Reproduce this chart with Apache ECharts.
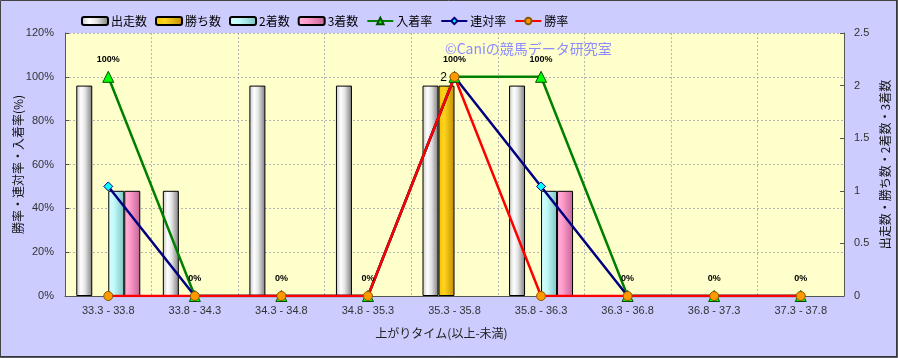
<!DOCTYPE html>
<html>
<head>
<meta charset="utf-8">
<script src="https://cdn.jsdelivr.net/npm/echarts@6/dist/echarts.min.js"></script>
<style>
html,body{margin:0;padding:0;background:#CCCCFF;}
#c{width:898px;height:358px;}
</style>
</head>
<body>
<div id="c"></div>
<script>
const categories = ['33.3 - 33.8','33.8 - 34.3','34.3 - 34.8','34.8 - 35.3','35.3 - 35.8','35.8 - 36.3','36.3 - 36.8','36.8 - 37.3','37.3 - 37.8'];
const starts   = [2,1,2,2,2,2,0,0,0];   // 出走数
const wins     = [0,0,0,0,2,0,0,0,0];   // 勝ち数
const seconds  = [1,0,0,0,0,1,0,0,0];   // 2着数
const thirds   = [1,0,0,0,0,1,0,0,0];   // 3着数
const placeRate= [100,0,0,0,100,100,0,0,0]; // 入着率
const rentaiRate=[50,0,0,0,100,50,0,0,0];   // 連対率
const winRate  = [0,0,0,0,100,0,0,0,0];     // 勝率
const leftTicks = [0,20,40,60,80,100,120];
const rightTicks = [0,0.5,1,1.5,2,2.5];

function grad(stops){
  return {type:'linear',x:0,y:0,x2:1,y2:0,colorStops:stops.map(s=>({offset:s[0],color:s[1]}))};
}
const FONT = '"Noto Sans CJK JP", sans-serif';
const NUMFONT = '"Liberation Sans", Arial, sans-serif';

function barSeries(name, data, stops, showLabel){
  return {
    name, type:'bar', yAxisIndex:1,
    data: data.map(v => v ? v : {value:v, itemStyle:{borderWidth:0}}),
    barWidth:16, barGap:'0%',
    itemStyle:{color:grad(stops), borderColor:'#000', borderWidth:1},
    label:{show:!!showLabel, position:'top', distance:2, offset:[-3,0], color:'#000', fontSize:12, fontFamily:NUMFONT,
      formatter:p=> p.value ? String(p.value) : ''}
  };
}
function lineSeries(name, data, color, symbol, symFill, size, withLabel){
  return {
    name, type:'line', yAxisIndex:0, data,
    lineStyle:{color, width:2.5},
    itemStyle:{color:symFill, borderColor: symbol==='circle' ? '#8a5a00' : (symbol==='triangle' ? '#005000' : color), borderWidth:1},
    symbol, symbolSize:size,
    label: withLabel ? {show:true, position:'top', distance:7, formatter:'{c}%', fontSize:9, fontWeight:'bold', color:'#000', fontFamily:NUMFONT} : {show:false}
  };
}

const chart = echarts.init(document.getElementById('c'), null, {renderer:'canvas'});
chart.setOption({
  backgroundColor:'#CCCCFF',
  animation:false,
  legend:{
    left:76, top:10, itemWidth:26, itemHeight:8, itemGap:8,
    textStyle:{fontSize:12, fontFamily:FONT, color:'#000', padding:[0,0,0,-2]},
    data:['出走数','勝ち数','2着数','3着数','入着率','連対率','勝率']
  },
  grid:{left:65, right:54, top:33, bottom:62, show:true, backgroundColor:'#FFFFCC', borderWidth:0, outerBoundsMode:'none', containLabel:false},
  graphic:[
    {type:'text', left:445, top:42, z:1, style:{text:'©Caniの競馬データ研究室', fill:'#8c8cff', font:'14px "Noto Sans CJK JP"'}},
    {type:'rect', shape:{x:0.5,y:0.5,width:896,height:356}, style:{fill:'none', stroke:'#444', lineWidth:1}, z:100},
    {type:'polyline', shape:{points:[[897,0],[897,357],[0,357]]}, style:{fill:'none', stroke:'#333', lineWidth:1.5}, z:100}
  ],
  xAxis:{
    type:'category', data:categories, boundaryGap:true,
    axisLine:{show:true, lineStyle:{color:'#555'}},
    axisTick:{show:false},
    axisLabel:{color:'#333', fontSize:11, fontFamily:NUMFONT, margin:9},
    splitLine:{show:true, lineStyle:{color:'#b4b4b4', type:[2,2]}},
    name:'上がりタイム(以上-未満)', nameLocation:'middle', nameGap:31, nameMoveOverlap:false,
    nameTextStyle:{fontSize:12, color:'#222', fontFamily:FONT, padding:[0,26,0,0]}
  },
  yAxis:[
    {
      type:'value', min:0, max:120, interval:20, position:'left',
      axisLine:{show:true, lineStyle:{color:'#555'}},
      axisTick:{show:true, inside:true, length:4, lineStyle:{color:'#555'}},
      axisLabel:{formatter:'{value}%', color:'#333', fontSize:11, fontFamily:NUMFONT, margin:11},
      splitLine:{show:true, lineStyle:{color:'#b4b4b4', type:[2,2]}},
      name:'勝率・連対率・入着率(%)', nameLocation:'middle', nameRotate:90, nameGap:41, nameMoveOverlap:false,
      nameTextStyle:{fontSize:12, color:'#111', fontFamily:FONT}
    },
    {
      type:'value', min:0, max:2.5, interval:0.5, position:'right',
      axisLine:{show:true, lineStyle:{color:'#555'}},
      axisTick:{show:true, inside:true, length:4, lineStyle:{color:'#555'}},
      axisLabel:{color:'#333', fontSize:11, fontFamily:NUMFONT, margin:10},
      splitLine:{show:false},
      name:'出走数・勝ち数・2着数・3着数', nameLocation:'middle', nameRotate:90, nameGap:35, nameMoveOverlap:false,
      nameTextStyle:{fontSize:12, color:'#111', fontFamily:FONT}
    }
  ],
  series:[
    barSeries('出走数', starts, [[0,'#c4c4c4'],[0.3,'#ffffff'],[0.55,'#e4e4e4'],[1,'#7c7c7c']]),
    barSeries('勝ち数', wins, [[0,'#f0c000'],[0.35,'#ffd41e'],[1,'#c08e00']], true),
    barSeries('2着数', seconds, [[0,'#d4ffff'],[0.35,'#c4fafa'],[1,'#7cc4c4']]),
    barSeries('3着数', thirds, [[0,'#ffb4da'],[0.35,'#ff9ccc'],[1,'#c06494']]),
    lineSeries('入着率', placeRate, '#008000', 'triangle', '#00ff00', 11, true),
    lineSeries('連対率', rentaiRate, '#000080', 'diamond', '#00ffff', 9, false),
    lineSeries('勝率', winRate, '#ff0000', 'circle', '#ff9900', 9, false)
  ]
});
</script>
</body>
</html>
